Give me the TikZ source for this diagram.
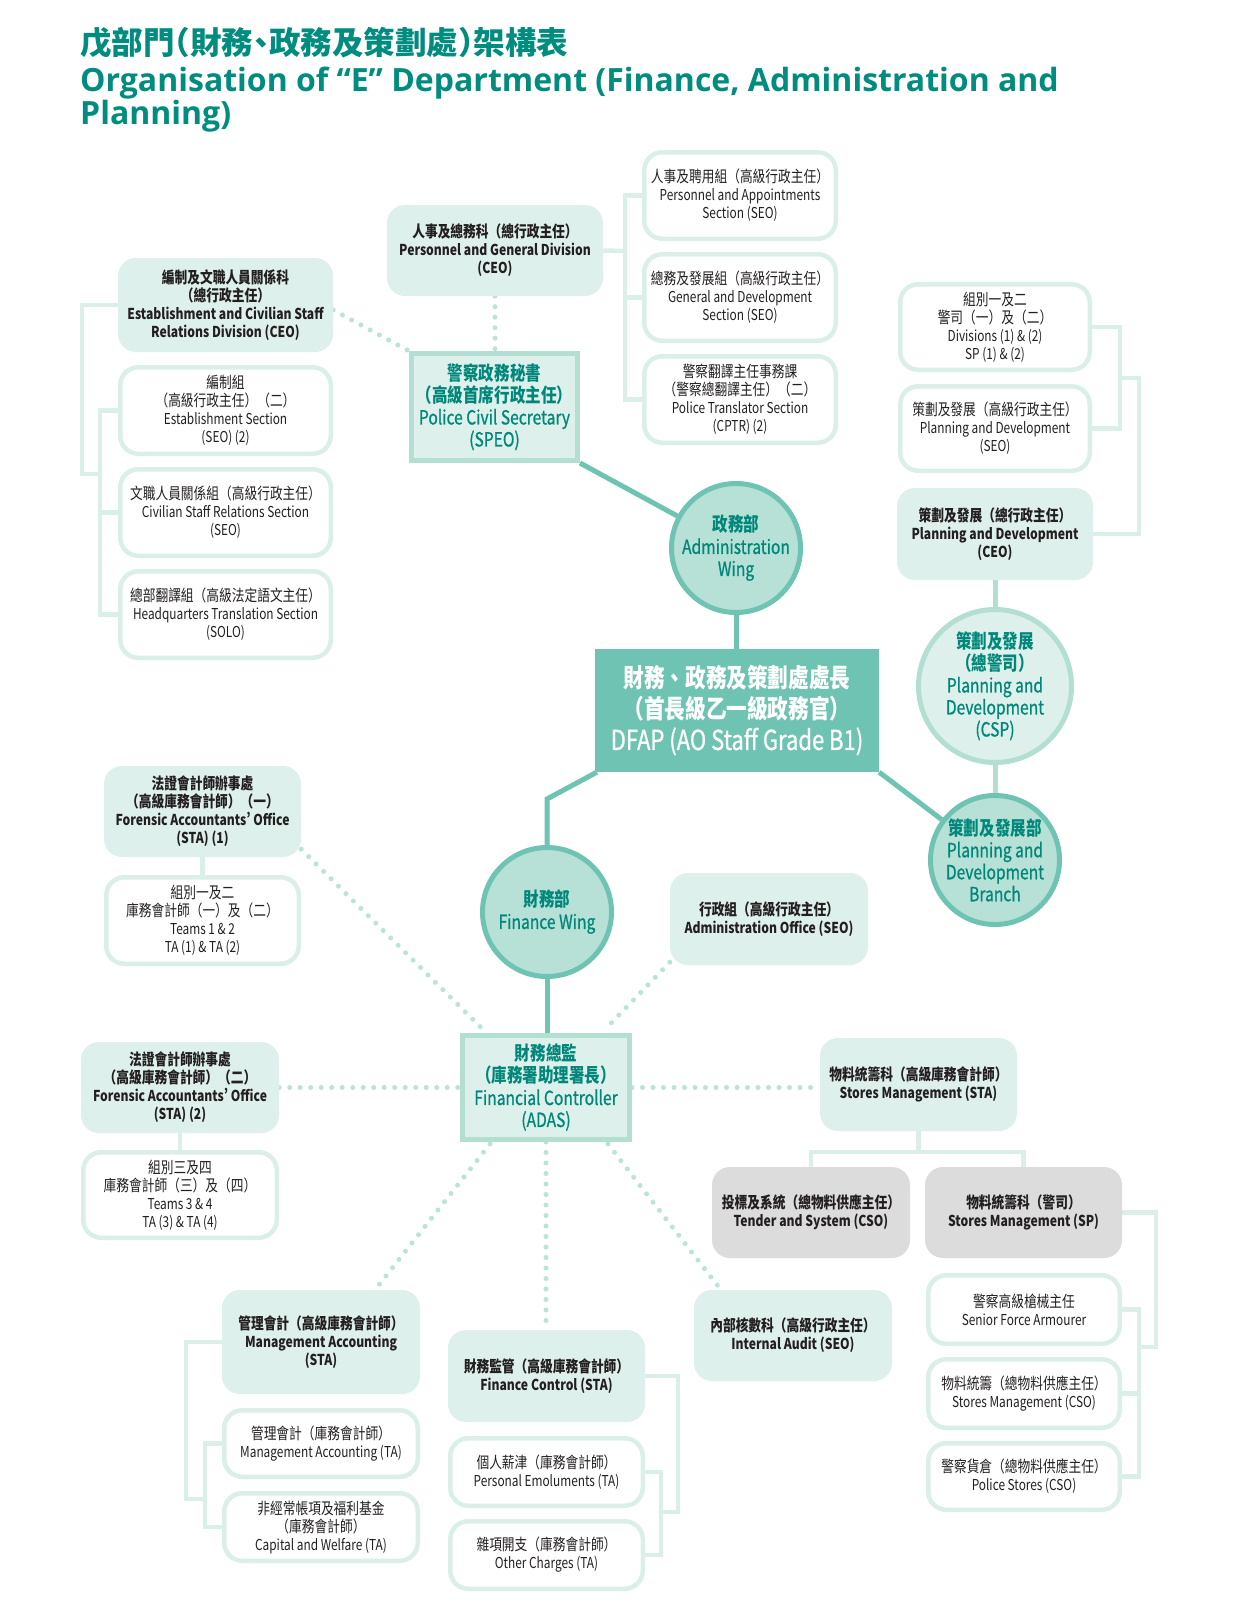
\documentclass[tikz,border=0pt]{standalone}
\usepackage{fontspec}
\setmainfont{Noto Sans CJK TC}[FakeStretch=0.79, BoldFeatures={FakeStretch=0.81}]
\newfontfamily\cjkf{Noto Sans CJK TC}[FakeStretch=0.80]
\newfontfamily\medf{Noto Sans CJK TC}[FakeStretch=0.80, FakeBold=0.8]
\newfontfamily\titlezh{Noto Sans CJK TC}[CharacterWidth=AlternateHalf]
\newfontfamily\titleen{Open Sans}
\usetikzlibrary{calc}
\pgfdeclarelayer{back}
\pgfdeclarelayer{bg}
\pgfsetlayers{back,bg,main}
\definecolor{mint}{HTML}{DEF0EB}
\definecolor{brkc}{HTML}{DBEFE9}
\definecolor{midmint}{HTML}{B3DFD3}
\definecolor{dotc}{HTML}{BCE3D8}
\definecolor{circf}{HTML}{B7E1D6}
\definecolor{tealc}{HTML}{6FC3B2}
\definecolor{tealtxt}{HTML}{00877A}
\definecolor{titlec}{HTML}{008C7F}
\definecolor{greyc}{HTML}{DCDCDC}
\definecolor{txt}{HTML}{231F20}
\newcommand\zh[1]{{\cjkf\fontsize{15.9}{18}\selectfont #1}}
\newcommand\tzh[1]{{\cjkf\bfseries\fontsize{19.4}{22}\selectfont #1}}
\newcommand\dzh[1]{{\cjkf\bfseries\fontsize{25.8}{31}\selectfont #1}}
\newcommand\apos{{\addfontfeature{CharacterWidth=Proportional}’}}
\tikzset{
 body/.style={align=center, inner sep=0pt, text=txt, font=\fontsize{15}{18}\selectfont},
 fillbox/.style={body, fill=mint, rounded corners=18pt, font=\fontsize{15}{18}\selectfont\bfseries},
 whitebox/.style={body, fill=white, draw=brkc, line width=4.5pt, rounded corners=18pt},
 greybox/.style={fillbox, fill=greyc},
 sqbox/.style={align=center, inner sep=0pt, fill=mint, draw=midmint, line width=5pt, text=tealtxt, font=\medf\fontsize{19.5}{22}\selectfont},
 dfapbox/.style={align=center, inner sep=0pt, fill=tealc, text=white, font=\medf\fontsize{27.5}{31}\selectfont},
 darkcirc/.style={circle, align=center, inner sep=0pt, fill=circf, draw=tealc, line width=5pt, text=tealtxt, font=\medf\fontsize{19.5}{22}\selectfont},
 lightcirc/.style={darkcirc, fill=mint, draw=midmint},
 brk/.style={draw=brkc, line width=4.5pt},
 tealline/.style={draw=tealc, line width=5pt},
 midline/.style={draw=midmint, line width=5pt},
 dots/.style={draw=dotc, line width=5pt, line cap=round, dash pattern=on 0pt off 10.5pt},
 ttl/.style={anchor=base west, inner sep=0pt, text=titlec},
}
\begin{document}
\begin{tikzpicture}[x=1pt,y=-1pt]
\useasboundingbox (0,0) rectangle (1240,1619);
\begin{pgfonlayer}{back}
\fill[white] (0,0) rectangle (1240,1619);
\end{pgfonlayer}

% titles
\node[ttl, font=\titlezh\bfseries\fontsize{31.5}{35}\selectfont] (t1) at (80,55) {戊部門（財務、政務及策劃處）架構表};
\node[ttl, font=\titleen\bfseries\fontsize{32}{36}\selectfont] (t2) at (80,91) {Organisation of “E” Department (Finance, Administration and};
\node[ttl, font=\titleen\bfseries\fontsize{32}{36}\selectfont] (t3) at (80,124) {Planning)};

% Administration side
\node[fillbox, minimum width=216pt, minimum height=91pt] (pgd) at (495,250.5) {\zh{人事及總務科（總行政主任）}\\Personnel and General Division\\(CEO)};
\node[whitebox, minimum width=191.5pt, minimum height=86.5pt] (pa) at (740,195.5) {\zh{人事及聘用組（高級行政主任）}\\Personnel and Appointments\\Section (SEO)};
\node[whitebox, minimum width=191.5pt, minimum height=86.5pt] (gd) at (740,297.5) {\zh{總務及發展組（高級行政主任）}\\General and Development\\Section (SEO)};
\node[whitebox, minimum width=191.5pt, minimum height=86.5pt] (pt) at (740,399.5) {\zh{警察翻譯主任事務課}\\\zh{（警察總翻譯主任）（二）}\\Police Translator Section\\(CPTR) (2)};

\node[fillbox, minimum width=215pt, minimum height=94pt] (esd) at (225.5,305) {\zh{編制及文職人員關係科}\\\zh{（總行政主任）}\\Establishment and Civilian Staff\\Relations Division (CEO)};
\node[whitebox, minimum width=210.5pt, minimum height=86.5pt] (es) at (225.5,410.5) {\zh{編制組}\\\zh{（高級行政主任）（二）}\\Establishment Section\\(SEO) (2)};
\node[whitebox, minimum width=210.5pt, minimum height=86.5pt] (csr) at (225.5,512.5) {\zh{文職人員關係組（高級行政主任）}\\Civilian Staff Relations Section\\(SEO)};
\node[whitebox, minimum width=210.5pt, minimum height=86.5pt] (hqt) at (225.5,614.5) {\zh{總部翻譯組（高級法定語文主任）}\\Headquarters Translation Section\\(SOLO)};

\node[sqbox, minimum width=166pt, minimum height=107pt] (speo) at (494.5,407) {\tzh{警察政務秘書}\\\tzh{（高級首席行政主任）}\\Police Civil Secretary\\(SPEO)};
\node[darkcirc, minimum size=129pt] (adw) at (736,548) {\tzh{政務部}\\Administration\\Wing};
\node[dfapbox, minimum width=284pt, minimum height=123pt] (dfap) at (737,710.5) {\dzh{財務、政務及策劃處處長}\\\dzh{（首長級乙一級政務官）}\\DFAP (AO Staff Grade B1)};

% Planning side
\node[whitebox, minimum width=189.5pt, minimum height=85.5pt] (div12) at (995,327) {\zh{組別一及二}\\\zh{警司（一）及（二）}\\Divisions (1) \& (2)\\SP (1) \& (2)};
\node[whitebox, minimum width=189.5pt, minimum height=84.5pt] (pdseo) at (995,428.5) {\zh{策劃及發展（高級行政主任）}\\Planning and Development\\(SEO)};
\node[fillbox, minimum width=196pt, minimum height=92pt] (pdceo) at (995,534) {\zh{策劃及發展（總行政主任）}\\Planning and Development\\(CEO)};
\node[lightcirc, minimum size=153pt] (csp) at (995,686) {\tzh{策劃及發展}\\\tzh{（總警司）}\\Planning and\\Development\\(CSP)};
\node[darkcirc, minimum size=129pt] (pdb) at (995,860) {\tzh{策劃及發展部}\\Planning and\\Development\\Branch};

% Finance side
\node[fillbox, minimum width=197pt, minimum height=91pt] (fo1) at (202.5,811.5) {\zh{法證會計師辦事處}\\\zh{（高級庫務會計師）（一）}\\Forensic Accountants\apos{} Office\\(STA) (1)};
\node[whitebox, minimum width=192.5pt, minimum height=86.5pt] (t12) at (202.5,920.5) {\zh{組別一及二}\\\zh{庫務會計師（一）及（二）}\\Teams 1 \& 2\\TA (1) \& TA (2)};
\node[darkcirc, minimum size=129pt] (fw) at (547,912) {\tzh{財務部}\\Finance Wing};
\node[fillbox, minimum width=198pt, minimum height=92pt] (ao) at (769,919) {\zh{行政組（高級行政主任）}\\Administration Office (SEO)};
\node[sqbox, minimum width=167pt, minimum height=104pt] (adas) at (546,1087.5) {\tzh{財務總監}\\\tzh{（庫務署助理署長）}\\Financial Controller\\(ADAS)};
\node[fillbox, minimum width=198pt, minimum height=91pt] (fo2) at (180,1087.5) {\zh{法證會計師辦事處}\\\zh{（高級庫務會計師）（二）}\\Forensic Accountants\apos{} Office\\(STA) (2)};
\node[whitebox, minimum width=193.5pt, minimum height=85.5pt] (t34) at (180,1195) {\zh{組別三及四}\\\zh{庫務會計師（三）及（四）}\\Teams 3 \& 4\\TA (3) \& TA (4)};
\node[fillbox, minimum width=197pt, minimum height=93pt] (sta) at (918.5,1084.5) {\zh{物料統籌科（高級庫務會計師）}\\Stores Management (STA)};
\node[greybox, minimum width=198pt, minimum height=91pt] (ts) at (811,1212.5) {\zh{投標及系統（總物料供應主任）}\\Tender and System (CSO)};
\node[greybox, minimum width=197pt, minimum height=91pt] (ssp) at (1023.5,1212.5) {\zh{物料統籌科（警司）}\\Stores Management (SP)};
\node[whitebox, minimum width=191.5pt, minimum height=68.5pt] (sfa) at (1024,1309.5) {\zh{警察高級槍械主任}\\Senior Force Armourer};
\node[whitebox, minimum width=191.5pt, minimum height=68.5pt] (scso) at (1024,1393.5) {\zh{物料統籌（總物料供應主任）}\\Stores Management (CSO)};
\node[whitebox, minimum width=191.5pt, minimum height=66.5pt] (ps) at (1024,1476.5) {\zh{警察貨倉（總物料供應主任）}\\Police Stores (CSO)};
\node[fillbox, minimum width=198pt, minimum height=91pt] (ia) at (793,1335.5) {\zh{內部核數科（高級行政主任）}\\Internal Audit (SEO)};
\node[fillbox, minimum width=198pt, minimum height=104pt] (ma) at (321,1342) {\zh{管理會計（高級庫務會計師）}\\Management Accounting\\(STA)};
\node[whitebox, minimum width=193.5pt, minimum height=66.5pt] (mata) at (321,1443.5) {\zh{管理會計（庫務會計師）}\\Management Accounting (TA)};
\node[whitebox, minimum width=193.5pt, minimum height=67.5pt] (cw) at (321,1527) {\zh{非經常帳項及福利基金}\\\zh{（庫務會計師）}\\Capital and Welfare (TA)};
\node[fillbox, minimum width=197pt, minimum height=92pt] (fc) at (546.5,1376) {\zh{財務監管（高級庫務會計師）}\\Finance Control (STA)};
\node[whitebox, minimum width=192.5pt, minimum height=67.5pt] (pe) at (546.5,1472) {\zh{個人薪津（庫務會計師）}\\Personal Emoluments (TA)};
\node[whitebox, minimum width=192.5pt, minimum height=67.5pt] (oc) at (546.5,1555) {\zh{雜項開支（庫務會計師）}\\Other Charges (TA)};

% junction coordinates
\coordinate (pgdj) at (625,251);
\coordinate (esdo) at (82,474);
\coordinate (esdi) at (100,474);
\coordinate (pdi) at (1120,378);
\coordinate (pdo) at (1139,378);
\coordinate (sspo) at (1156,1347);
\coordinate (sspi) at (1139,1347);
\coordinate (mao) at (186,1499);
\coordinate (mai) at (205,1499);
\coordinate (fco) at (678,1512);
\coordinate (fci) at (661,1512);
\coordinate (staj) at (918.5,1152);
\coordinate (fwb) at (547,799);

\begin{pgfonlayer}{bg}
% brackets
\draw[brk] (pgd.east) -- (pgdj);
\draw[brk] (pa.west) -| (pgdj);
\draw[brk] (pt.west) -| (pgdj);
\draw[brk] (gd.west) -- (gd.west -| pgdj);
\draw[brk] (esd.west) -| (esdo) -- (esdi);
\draw[brk] (es.west) -| (esdi);
\draw[brk] (hqt.west) -| (esdi);
\draw[brk] (csr.west) -- (csr.west -| esdi);
\draw[brk] (div12.east) -| (pdi);
\draw[brk] (pdseo.east) -| (pdi);
\draw[brk] (pdi) -- (pdo) |- (pdceo.east);
\draw[brk] (ssp.east) -| (sspo) -- (sspi);
\draw[brk] (sfa.east) -| (sspi);
\draw[brk] (ps.east) -| (sspi);
\draw[brk] (scso.east) -- (scso.east -| sspi);
\draw[brk] (ma.west) -| (mao) -- (mai);
\draw[brk] (mata.west) -| (mai);
\draw[brk] (cw.west) -| (mai);
\draw[brk] (fc.east) -| (fco) -- (fci);
\draw[brk] (pe.east) -| (fci);
\draw[brk] (oc.east) -| (fci);
\draw[brk] (sta.south) -- (staj);
\draw[brk] (ts.north) |- (staj) -| (ssp.north);
\draw[brk] (fo1.south) -- (t12.north);
\draw[brk] (fo2.south) -- (t34.north);
% solid connectors
\draw[tealline] (speo.south east) -- (adw);
\draw[tealline] (adw.south) -- (adw.south |- dfap.north);
\draw[tealline] (dfap.south east) -- (pdb);
\draw[tealline] ([xshift=2pt]dfap.south west) -- (fwb) -- (fw.north);
\draw[tealline] (fw.south) -- (fw.south |- adas.north);
\draw[midline] (pdceo.south) -- (csp.north);
\draw[midline] (csp.south) -- (pdb.north);
% dotted connectors
\draw[dots] (pgd.south) -- (pgd.south |- speo.north);
\draw[dots] ([yshift=-5pt]esd.east) -- (speo.north west);
\draw[dots] ([yshift=8pt]fo1.south east) -- ([xshift=23pt,yshift=3.5pt]adas.north west);
\draw[dots] ([yshift=3pt]ao.south west) -- ([xshift=-27pt,yshift=3.5pt]adas.north east);
\draw[dots] (fo2.east) -- (adas.west);
\draw[dots] (adas.east) -- (adas.east -| sta.west);
\draw[dots] ([xshift=30pt,yshift=-2pt]adas.south west) -- ([xshift=58pt,yshift=5pt]ma.north);
\draw[dots] (adas.south) -- (adas.south |- fc.north);
\draw[dots] ([xshift=-24pt,yshift=-2pt]adas.south east) -- ([xshift=24pt,yshift=4pt]ia.north west);
\end{pgfonlayer}
\end{tikzpicture}
\end{document}
